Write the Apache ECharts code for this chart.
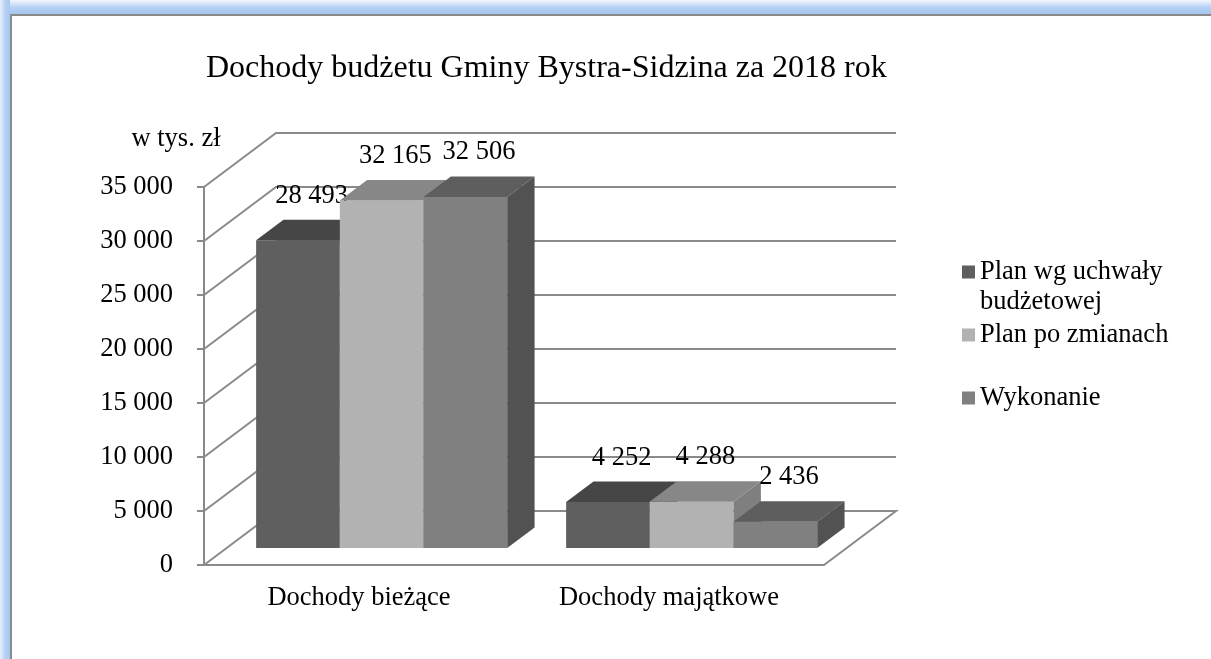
<!DOCTYPE html>
<html>
<head>
<meta charset="utf-8">
<script src="https://cdn.jsdelivr.net/npm/echarts@6/dist/echarts.min.js"></script>
<style>
  body { margin: 0; background: #fff; }
  .frame { position: absolute; }
  #glowTop { left: 0; top: 0; width: 1211px; height: 14px; background: linear-gradient(#f3f7fd, #b4d0f3 55%, #a6c7f0); }
  #glowLeft { left: 0; top: 0; width: 10px; height: 659px; background: linear-gradient(to right, #e6eefb, #b4d0f3 55%, #a6c7f0); }
  #lineTop { left: 10px; top: 14px; width: 1201px; height: 2px; background: #8a8a8a; }
  #lineLeft { left: 10px; top: 14px; width: 2px; height: 645px; background: #8a8a8a; }
  #main { position: absolute; left: 0; top: 0; width: 1211px; height: 659px; }
</style>
</head>
<body>
<div class="frame" id="glowTop"></div>
<div class="frame" id="glowLeft"></div>
<div class="frame" id="lineTop"></div>
<div class="frame" id="lineLeft"></div>
<div id="main"></div>
<script>
// dane
var categories = ['Dochody bieżące', 'Dochody majątkowe'];
var seriesNames = ['Plan wg uchwały budżetowej', 'Plan po zmianach', 'Wykonanie'];
var planUchwala = [28493, 4252];
var planZmiany = [32165, 4288];
var wykonanie = [32506, 2436];
var yTicks = [0, 5000, 10000, 15000, 20000, 25000, 30000, 35000];

// kolory: przód, góra, bok
var colors = [
  ['#5f5f5f', '#464646', '#4b4b4b'],
  ['#b2b2b2', '#878787', '#7f7f7f'],
  ['#808080', '#5e5e5e', '#525252']
];

var FONT = 'Liberation Serif';
var FS = 26.5;
var DX = 72, DY = -54;      // przesunięcie głębi
var D0 = 0.315, DL = 0.38;  // początek i długość słupka w głębi

function fmt(v) {
  return String(v).replace(/\B(?=(\d{3})+(?!\d))/g, ' ');
}

var myChart = echarts.init(document.getElementById('main'));

function wallItem(params, api) {
  var cs = params.coordSys;
  var v = api.value(1);
  var y = api.coord([0, v])[1];
  var x0 = cs.x, x1 = cs.x + cs.width;
  var pts = [[x0, y], [x0 + DX, y + DY], [x1 + DX, y + DY]];
  if (v === 0) pts.push([x1, y]);
  return {
    type: 'polyline',
    shape: { points: pts },
    style: { stroke: '#8a8a8a', lineWidth: 2, fill: null }
  };
}

function barItem(sIdx) {
  return function (params, api) {
    var cat = api.value(0), v = api.value(1);
    var band = api.size([1, 0])[0];
    var groupW = band * 0.81, barW = groupW / 3;
    var base = api.coord([cat, 0]);
    var yTop = api.coord([cat, v])[1];
    var x = base[0] - groupW / 2 + sIdx * barW + DX * D0;
    var yb = base[1] + DY * D0;
    var yt = yTop + DY * D0;
    var ddx = DX * DL, ddy = DY * DL;
    var c = colors[sIdx];
    return {
      type: 'group',
      children: [
        { type: 'rect', shape: { x: x, y: yt, width: barW, height: yb - yt }, style: { fill: c[0] } },
        { type: 'polygon', shape: { points: [[x, yt], [x + barW, yt], [x + barW + ddx, yt + ddy], [x + ddx, yt + ddy]] }, style: { fill: c[1] } },
        { type: 'polygon', shape: { points: [[x + barW, yt], [x + barW, yb], [x + barW + ddx, yb + ddy], [x + barW + ddx, yt + ddy]] }, style: { fill: c[2] } },
        { type: 'text', style: { x: x + barW / 2 + ddx / 2, y: yt + ddy - 24, text: fmt(v), fill: '#000', font: FS + 'px "' + FONT + '"', align: 'center', verticalAlign: 'middle' } }
      ]
    };
  };
}

var values = [planUchwala, planZmiany, wykonanie];
var series = [{
  type: 'custom',
  name: 'walls',
  renderItem: wallItem,
  data: yTicks.map(function (v) { return [0, v]; }),
  silent: true,
  z: 1
}];
values.forEach(function (arr, i) {
  series.push({
    type: 'custom',
    name: seriesNames[i],
    renderItem: barItem(i),
    itemStyle: { color: colors[i][0] },
    data: arr.map(function (v, k) { return [k, v]; }),
    z: 2 + i
  });
});

var legendText = { fontFamily: FONT, fontSize: FS, color: '#000', lineHeight: 30 };

myChart.setOption({
  animation: false,
  title: {
    text: 'Dochody budżetu Gminy Bystra-Sidzina za 2018 rok',
    left: 201,
    top: 48,
    textStyle: { fontFamily: FONT, fontSize: 32, fontWeight: 'normal', color: '#000' }
  },
  legend: [
    {
      data: [seriesNames[0]], left: 962, top: 227, padding: 0, itemWidth: 13, itemHeight: 13,
      icon: 'rect',
      formatter: function () { return '\nPlan wg uchwały\nbudżetowej'; },
      textStyle: legendText
    },
    {
      data: [seriesNames[1]], left: 962, top: 320, padding: 0, itemWidth: 13, itemHeight: 13,
      icon: 'rect',
      textStyle: legendText
    },
    {
      data: [seriesNames[2]], left: 962, top: 383, padding: 0, itemWidth: 13, itemHeight: 13,
      icon: 'rect',
      textStyle: legendText
    }
  ],
  grid: { left: 204, top: 187, width: 620, height: 378 },
  xAxis: {
    type: 'category',
    data: categories,
    axisLine: { lineStyle: { color: '#8a8a8a', width: 2 } },
    axisTick: { length: 7, lineStyle: { color: '#8a8a8a', width: 2 } },
    axisLabel: { margin: 20, fontFamily: FONT, fontSize: FS, color: '#000' }
  },
  yAxis: {
    type: 'value',
    min: 0,
    max: 35000,
    interval: 5000,
    name: 'w tys. zł',
    nameGap: 34,
    nameTextStyle: { fontFamily: FONT, fontSize: FS, color: '#000', align: 'center', padding: [0, 56, 0, 0] },
    axisLine: { show: true, lineStyle: { color: '#8a8a8a', width: 2 } },
    axisTick: { show: true, length: 7, lineStyle: { color: '#8a8a8a', width: 2 } },
    splitLine: { show: false },
    axisLabel: { margin: 31, fontFamily: FONT, fontSize: FS, color: '#000', formatter: fmt }
  },
  series: series
});
</script>
</body>
</html>
